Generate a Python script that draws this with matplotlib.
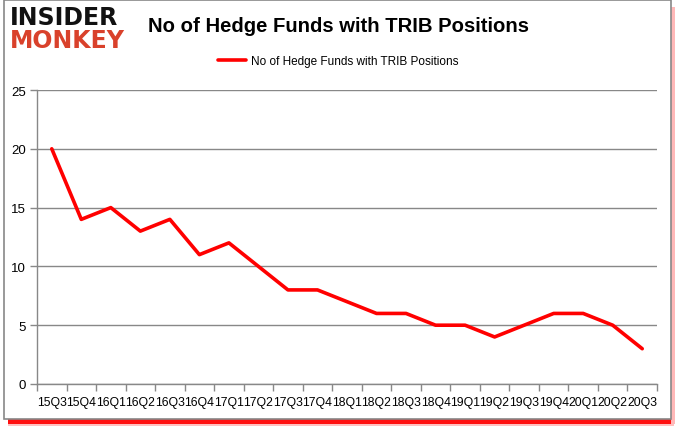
import matplotlib
matplotlib.use("Agg")
import matplotlib.pyplot as plt
from matplotlib.patches import Rectangle

quarters = ["15Q3", "15Q4", "16Q1", "16Q2", "16Q3", "16Q4", "17Q1", "17Q2", "17Q3", "17Q4",
            "18Q1", "18Q2", "18Q3", "18Q4", "19Q1", "19Q2", "19Q3", "19Q4", "20Q1", "20Q2", "20Q3"]
funds = [20, 14, 15, 13, 14, 11, 12, 10, 8, 8, 7, 6, 6, 5, 5, 4, 5, 6, 6, 5, 3]
yticks = [0, 5, 10, 15, 20, 25]
series_name = "No of Hedge Funds with TRIB Positions"
title = "No of Hedge Funds with TRIB Positions"

W, H = 677, 431
fig = plt.figure(figsize=(W / 100, H / 100), dpi=100)
fig.patch.set_facecolor("white")

# frame with red shadow
fig.patches.append(Rectangle((8 / W, (431 - 427) / H), (674 - 8) / W, 7 / H, transform=fig.transFigure,
                             facecolor="#ffc0c0", edgecolor="none", zorder=0))
fig.patches.append(Rectangle((8 / W, (431 - 425) / H), (672 - 8) / W, 5 / H, transform=fig.transFigure,
                             facecolor="#ff1010", edgecolor="none", zorder=0))
fig.patches.append(Rectangle((671 / W, (431 - 425) / H), 4 / W, (425 - 8) / H, transform=fig.transFigure,
                             facecolor="#ffb8b8", edgecolor="none", zorder=0))
fig.patches.append(Rectangle((4 / W, (431 - 420) / H), (671 - 4) / W, (420 - 0.5) / H, transform=fig.transFigure,
                             facecolor="white", edgecolor="#888888", linewidth=1.2, zorder=1))

ax = fig.add_axes([37 / W, (431 - 385) / H, (657 - 37) / W, (385 - 91) / H])
ax.set_zorder(3)
ax.patch.set_alpha(0)
x = list(range(len(quarters)))
ax.plot(x, funds, color="#ff0000", linewidth=2.6, solid_capstyle="round", label=series_name, zorder=3)

ax.set_xlim(-0.5, len(quarters) - 0.5)
ax.set_ylim(0, 25)
ax.set_yticks(yticks)
ax.set_yticklabels([str(v) for v in yticks], fontsize=9.5, family="Liberation Sans")
ax.set_xticks(x)
ax.set_xticklabels(quarters, fontsize=8.8, family="Liberation Sans")
ax.set_xticks([i - 0.5 for i in range(len(quarters) + 1)], minor=True)
ax.tick_params(axis="x", which="major", length=0, pad=9)
ax.tick_params(axis="x", which="minor", length=5, color="#888888", width=1)
ax.tick_params(axis="y", length=5, color="#888888", width=1, pad=3)
ax.yaxis.grid(True, color="#888888", linewidth=1)
ax.set_axisbelow(True)
for s in ["top", "right"]:
    ax.spines[s].set_visible(False)
for s in ["left", "bottom"]:
    ax.spines[s].set_color("#888888")
    ax.spines[s].set_linewidth(1)

fig.text(338 / W, 1 - 26 / H, title, ha="center", va="center", fontsize=14.6, fontweight="bold",
         family="Liberation Sans")
leg = fig.legend(loc="center", bbox_to_anchor=(338 / W, 1 - 62 / H), frameon=False,
                 prop={"family": "Liberation Sans", "size": 8.5}, handlelength=2.4, handletextpad=0.4)

fig.text(10 / W, 1 - 18 / H, "INSIDER", ha="left", va="center", fontsize=17, fontweight="heavy",
         family="DejaVu Sans", color="#111111")
fig.text(10 / W, 1 - 41 / H, "MONKEY", ha="left", va="center", fontsize=17, fontweight="heavy",
         family="DejaVu Sans", color="#d9412b")

fig.savefig("out.png", dpi=100)
